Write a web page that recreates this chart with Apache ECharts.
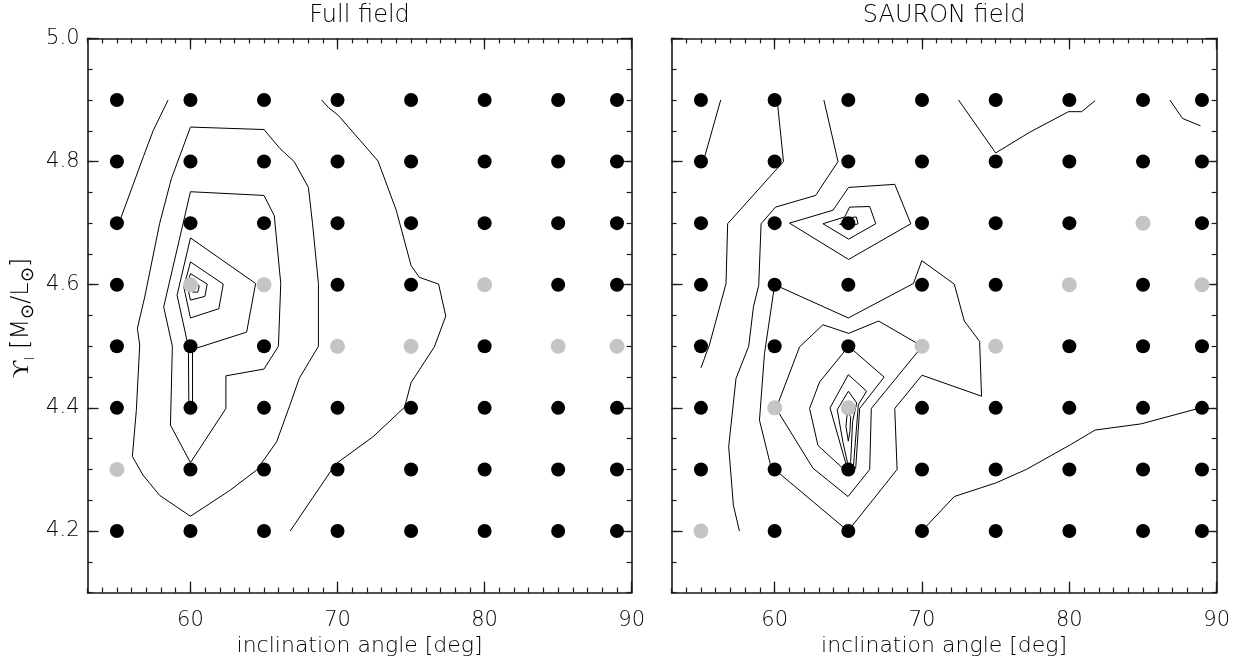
<!DOCTYPE html>
<html>
<head>
<meta charset="utf-8">
<script src="https://cdn.jsdelivr.net/npm/echarts@6/dist/echarts.min.js"></script>
<style>
html,body{margin:0;padding:0;background:#fff;}
#chart{width:1241px;height:664px;}
</style>
</head>
<body>
<div id="chart"></div>
<script>
// ---------------- DATA ----------------
const xVals = [55, 60, 65, 70, 75, 80, 85, 89];
const yVals = [4.2, 4.3, 4.4, 4.5, 4.6, 4.7, 4.8, 4.9];
const xTickLabels = [60, 70, 80, 90];
const yTickLabels = [4.2, 4.4, 4.6, 4.8, 5.0];
const panelTitles = ['Full field', 'SAURON field'];

const greyFull = [[60,4.6],[65,4.6],[80,4.6],[70,4.5],[75,4.5],[85,4.5],[89,4.5],[55,4.3]];
const greySauron = [[85,4.7],[80,4.6],[89,4.6],[70,4.5],[75,4.5],[60,4.4],[65,4.4],[55,4.2]];

// Full field contours
const fullA = [[58.48,4.9],[57.46,4.85],[56.8,4.808],[55.14,4.7]];
const fullB = [[60.0,4.856],[65.0,4.852],[66.09,4.821],[67.05,4.8],[68.02,4.758],[68.3,4.699],[68.7,4.602],[68.7,4.5],[67.4,4.448],[66.77,4.405],[65.86,4.345],[64.5,4.299],[62.68,4.266],[60.0,4.224],[57.9,4.258],[56.77,4.291],[56.05,4.321],[56.32,4.396],[56.55,4.502],[56.39,4.529],[56.89,4.58],[57.9,4.699],[58.7,4.772],[60.0,4.856]];
const fullC = [[60.0,4.751],[65.0,4.745],[65.7,4.712],[66.14,4.602],[65.98,4.5],[65.0,4.463],[62.41,4.452],[62.41,4.399],[60.0,4.311],[58.64,4.372],[58.77,4.5],[58.18,4.564],[60.0,4.751]];
const fullD = [[60.0,4.676],[64.43,4.602],[63.82,4.523],[60.41,4.497],[60.14,4.492],[60.14,4.406],[59.89,4.406],[59.86,4.499],[59.09,4.583],[60.0,4.676]];
const fullE = [[60.0,4.637],[62.23,4.601],[61.93,4.561],[60.0,4.546],[59.55,4.596],[60.0,4.637]];
const fullF = [[60.0,4.618],[61.14,4.601],[60.98,4.581],[60.0,4.575],[59.77,4.599],[60.0,4.618]];
const fullG = [[60.2,4.607],[60.6,4.598],[60.5,4.588],[60.15,4.588],[60.2,4.607]];
const fullH = [[68.92,4.9],[69.37,4.888],[70.05,4.875],[72.75,4.801],[73.99,4.721],[75.0,4.631],[75.56,4.612],[76.87,4.601],[77.36,4.549],[76.58,4.499],[75.0,4.441],[74.66,4.41],[74.55,4.401],[72.41,4.353],[70.05,4.312],[69.59,4.299],[66.78,4.2]];

// SAURON field contours
const sauA = [[56.34,4.9],[55.16,4.8]];
const sauB = [[60.17,4.9],[60.6,4.8],[56.81,4.699],[56.7,4.602],[55.57,4.502],[55.0,4.465]];
const sauC = [[63.34,4.9],[64.3,4.8],[62.78,4.745],[60.06,4.726],[59.08,4.699],[58.92,4.599],[58.56,4.564],[58.24,4.5],[57.38,4.448],[56.88,4.337],[57.2,4.242],[57.61,4.2]];
const sauD = [[60.0,4.6],[65.0,4.546],[69.42,4.602],[69.99,4.639],[72.19,4.601],[72.87,4.541],[73.91,4.508],[74.04,4.419],[70.0,4.453],[68.15,4.399],[68.31,4.3],[64.98,4.2],[60.0,4.3],[59.69,4.31],[58.97,4.38],[59.31,4.488],[60.0,4.6]];
const sauE = [[63.28,4.535],[65.02,4.521],[67.06,4.541],[70.01,4.5],[66.56,4.399],[66.45,4.3],[64.98,4.256],[62.6,4.302],[60.1,4.399],[61.69,4.499],[63.28,4.535]];
const sauF = [[65.02,4.5],[67.43,4.45],[65.77,4.399],[65.5,4.302],[64.98,4.294],[62.94,4.339],[62.37,4.399],[63.05,4.442],[65.02,4.5]];
const sauG = [[65.0,4.454],[66.24,4.427],[65.68,4.405],[65.34,4.303],[65.0,4.297],[64.66,4.324],[63.76,4.4],[65.0,4.454]];
const sauH = [[65.0,4.427],[65.57,4.408],[65.29,4.378],[65.16,4.313],[65.0,4.305],[64.62,4.346],[64.25,4.397],[65.0,4.427]];
const sauI = [[64.93,4.392],[65.16,4.386],[65.11,4.362],[65.0,4.346],[64.84,4.37],[64.93,4.392]];
const sauJ = [[61.01,4.7],[63.96,4.721],[65.02,4.758],[68.15,4.763],[69.24,4.699],[65.02,4.641],[61.01,4.7]];
const sauK = [[63.28,4.699],[64.75,4.71],[65.09,4.726],[66.45,4.727],[66.86,4.699],[65.02,4.674],[63.28,4.699]];
const sauL = [[64.41,4.698],[65.09,4.709],[65.54,4.71],[65.66,4.699],[65.09,4.694],[64.41,4.698]];
const sauM = [[72.48,4.9],[75.0,4.814],[77.34,4.848],[79.94,4.881],[80.84,4.881],[81.75,4.899]];
const sauN = [[86.82,4.9],[87.68,4.87],[88.9,4.858]];
const sauO = [[69.99,4.2],[72.19,4.256],[75.0,4.278],[77.08,4.3],[80.06,4.34],[81.75,4.364],[84.87,4.374],[88.9,4.4]];

const contoursFull = [fullA, fullB, fullC, fullD, fullE, fullF, fullG, fullH];
const contoursSauron = [sauA, sauB, sauC, sauD, sauE, sauF, sauG, sauH, sauI, sauJ, sauK, sauL, sauM, sauN, sauO];

// ---------------- CHART ----------------
const FONT = 'DejaVu Sans';
const TXT = '#000';
const AXC = '#1a1a1a';
const grids = [
  {left: 87.5, top: 38.4, width: 544.2, height: 554.2},
  {left: 671.5, top: 38.4, width: 545.2, height: 554.2}
];

function isGrey(list, x, y) {
  return list.some(p => p[0] === x && Math.abs(p[1] - y) < 1e-9);
}
function blackDots(list) {
  const out = [];
  xVals.forEach(x => yVals.forEach(y => { if (!isGrey(list, x, y)) out.push([x, y]); }));
  return out;
}

const xAxes = [], yAxes = [];
grids.forEach((g, gi) => {
  const line = {show: true, onZero: false, lineStyle: {color: AXC, width: 1.6}};
  ['bottom', 'top'].forEach(pos => {
    xAxes.push({
      gridIndex: gi, type: 'value', min: 53, max: 90, position: pos,
      axisLine: line,
      axisTick: {show: true, inside: true, length: 11, customValues: xTickLabels, lineStyle: {color: AXC, width: 1.3}},
      axisLabel: pos === 'bottom' ? {show: true, customValues: xTickLabels, color: TXT, fontFamily: FONT, fontWeight: 200, fontSize: 21, margin: 17} : {show: false},
      splitLine: {show: false},
      name: pos === 'bottom' ? 'inclination angle [deg]' : '',
      nameLocation: 'middle', nameGap: 43,
      nameTextStyle: {color: TXT, fontFamily: FONT, fontWeight: 200, fontSize: 22}
    });
    xAxes.push({
      gridIndex: gi, type: 'value', min: 53, max: 90, interval: 1, position: pos,
      axisLine: {show: false},
      axisTick: {show: true, inside: true, length: 5, lineStyle: {color: AXC, width: 1.2}},
      axisLabel: {show: false}, splitLine: {show: false}
    });
  });
  ['left', 'right'].forEach(pos => {
    yAxes.push({
      gridIndex: gi, type: 'value', min: 4.1, max: 5.0, position: pos,
      axisLine: line,
      axisTick: {show: true, inside: true, length: 11, customValues: yTickLabels, lineStyle: {color: AXC, width: 1.3}},
      axisLabel: (pos === 'left' && gi === 0) ? {show: true, customValues: yTickLabels, formatter: v => v.toFixed(1), color: TXT, fontFamily: FONT, fontWeight: 200, fontSize: 21, margin: 8} : {show: false},
      splitLine: {show: false}
    });
    yAxes.push({
      gridIndex: gi, type: 'value', min: 4.1, max: 5.0, interval: 0.05, position: pos,
      axisLine: {show: false},
      axisTick: {show: true, inside: true, length: 5, lineStyle: {color: AXC, width: 1.2}},
      axisLabel: {show: false}, splitLine: {show: false}
    });
  });
});

const series = [];
[[contoursFull, greyFull], [contoursSauron, greySauron]].forEach((pair, gi) => {
  const xi = gi * 4, yi = gi * 4;
  pair[0].forEach(c => {
    series.push({
      type: 'line', xAxisIndex: xi, yAxisIndex: yi, data: c,
      showSymbol: false, symbol: 'none', silent: true, animation: false,
      lineStyle: {color: '#000', width: 1}, z: 2
    });
  });
  series.push({
    type: 'scatter', xAxisIndex: xi, yAxisIndex: yi, data: blackDots(pair[1]),
    symbol: 'circle', symbolSize: 14, itemStyle: {color: '#000', opacity: 1}, z: 5, animation: false
  });
  series.push({
    type: 'scatter', xAxisIndex: xi, yAxisIndex: yi, data: pair[1],
    symbol: 'circle', symbolSize: 15, itemStyle: {color: '#c4c4c4', opacity: 1}, z: 5, animation: false
  });
});

const graphics = panelTitles.map((t, i) => ({
  type: 'text', x: grids[i].left + grids[i].width / 2, y: 16,
  style: {text: t, fill: TXT, font: '200 24px "DejaVu Sans"', textAlign: 'center', textVerticalAlign: 'middle'}
}));
graphics.push({
  type: 'text', x: 22, y: 318, rotation: Math.PI / 2,
  style: {
    text: '{u|ϒ}{s|I}{u| [M}{o|⊙}{u|/L}{o|⊙}{u|]}',
    fill: TXT, textAlign: 'center', textVerticalAlign: 'middle',
    rich: {
      u: {fontFamily: FONT, fontWeight: 200, fontSize: 24, lineHeight: 30, verticalAlign: 'middle', fill: TXT},
      s: {fontFamily: FONT, fontWeight: 200, fontSize: 14, lineHeight: 30, verticalAlign: 'bottom', fill: TXT},
      o: {fontFamily: FONT, fontWeight: 200, fontSize: 18, lineHeight: 30, verticalAlign: 'bottom', fill: TXT}
    }
  }
});

const chart = echarts.init(document.getElementById('chart'), null, {renderer: 'canvas'});
chart.setOption({
  animation: false,
  backgroundColor: '#fff',
  grid: grids.map(g => Object.assign({containLabel: false, outerBoundsMode: 'none'}, g)),
  xAxis: xAxes,
  yAxis: yAxes,
  series: series,
  graphic: graphics
});
</script>
</body>
</html>
